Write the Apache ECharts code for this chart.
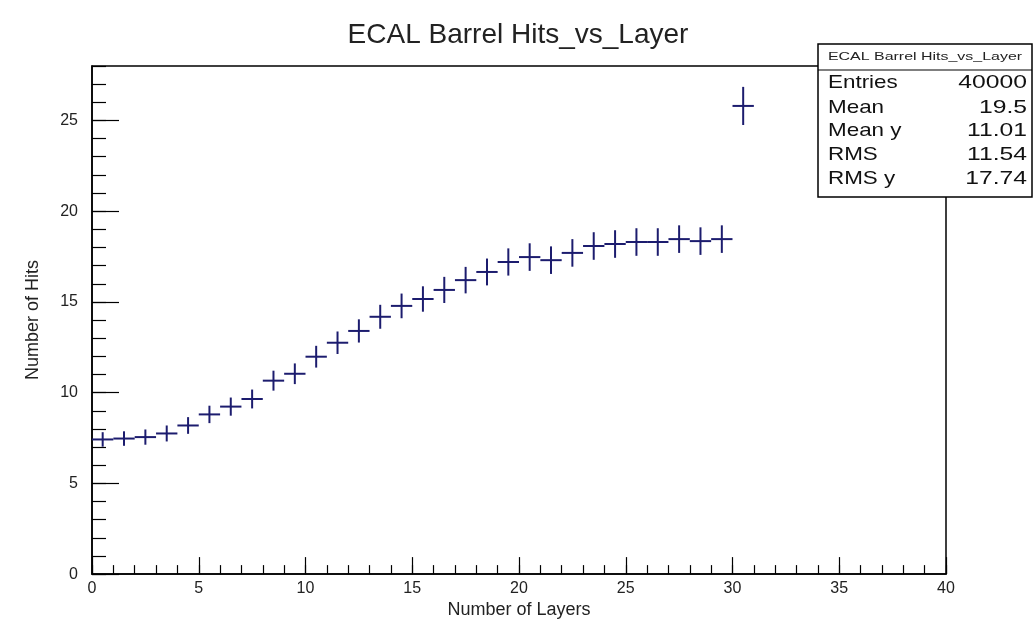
<!DOCTYPE html>
<html>
<head>
<meta charset="utf-8">
<script src="https://cdn.jsdelivr.net/npm/echarts@6/dist/echarts.min.js"></script>
<style>
html,body{margin:0;padding:0;background:#fff;}
#chart{width:1036px;height:624px;}
</style>
</head>
<body>
<div id="chart"></div>
<script>
// Data
const layers = [0.5,1.5,2.5,3.5,4.5,5.5,6.5,7.5,8.5,9.5,10.5,11.5,12.5,13.5,14.5,15.5,16.5,17.5,18.5,19.5,20.5,21.5,22.5,23.5,24.5,25.5,26.5,27.5,28.5,29.5,30.5];
const hits = [7.42,7.47,7.55,7.75,8.19,8.8,9.23,9.65,10.66,11.04,11.98,12.75,13.4,14.18,14.78,15.16,15.66,16.2,16.65,17.2,17.47,17.3,17.7,18.08,18.19,18.3,18.3,18.46,18.35,18.46,25.8];
const errors = [0.4,0.4,0.42,0.44,0.46,0.48,0.5,0.52,0.55,0.57,0.6,0.62,0.64,0.66,0.68,0.7,0.72,0.73,0.74,0.75,0.76,0.76,0.76,0.76,0.76,0.76,0.76,0.76,0.76,0.76,1.05];
const binHalfWidth = 0.5;
const xTickLabels = ['0','5','10','15','20','25','30','35','40'];
const yTickLabels = ['0','5','10','15','20','25'];
const statsTitle = 'ECAL Barrel Hits_vs_Layer';
const statsNames = ['Entries','Mean','Mean y','RMS','RMS y'];
const statsValues = ['40000','19.5','11.01','11.54','17.74'];

const FONT = 'Liberation Sans, Arial, Helvetica, sans-serif';
const LINE = '#1c1c6e';

const chart = echarts.init(document.getElementById('chart'), null, {renderer:'canvas'});

const data = layers.map((x,i)=>[x, hits[i], errors[i]]);

const graphics = [];
const bx = 818, by = 44, bw = 214, bh = 153;
graphics.push({type:'rect', shape:{x:bx,y:by,width:bw,height:bh}, style:{fill:'#fff',stroke:'#000',lineWidth:1.5}, z:100});
graphics.push({type:'line', shape:{x1:bx,y1:70,x2:bx+bw,y2:70}, style:{stroke:'#000',lineWidth:1.2}, z:101});
graphics.push({type:'text', x:bx+bw/2, y:57, scaleX:1.45, style:{text:statsTitle, font:'11px '+FONT, fill:'#222', align:'center', verticalAlign:'middle'}, z:101});
const rowY = [83,108,131,155,179];
statsNames.forEach((n,i)=>{
  graphics.push({type:'text', x:828, y:rowY[i], scaleX:1.18, style:{text:n, font:'19px '+FONT, fill:'#111', align:'left', verticalAlign:'middle'}, z:101});
  graphics.push({type:'text', x:1027, y:rowY[i], scaleX:1.3, style:{text:statsValues[i], font:'19px '+FONT, fill:'#111', align:'right', verticalAlign:'middle'}, z:101});
});

const option = {
  backgroundColor:'#fff',
  animation:false,
  title:{text:'ECAL Barrel Hits_vs_Layer', left:'center', top:16, textStyle:{fontFamily:FONT, fontSize:28, fontWeight:'normal', color:'#222'}},
  grid:{left:92, right:90, top:66, bottom:47, show:true, borderColor:'#000', borderWidth:1.5, backgroundColor:'#fff'},
  xAxis:[
    {type:'value', min:0, max:40, interval:5, position:'bottom',
     name:'Number of Layers', nameLocation:'middle', nameGap:24,
     nameTextStyle:{fontFamily:FONT, fontSize:18, color:'#222'},
     axisLine:{show:true, onZero:false, lineStyle:{color:'#000', width:1.5}},
     axisTick:{show:true, inside:true, length:17, lineStyle:{color:'#000', width:1.2}},
     axisLabel:{show:true, margin:6, fontFamily:FONT, fontSize:16, color:'#222',
       formatter:(v)=>{const s=String(Math.round(v)); return xTickLabels.includes(s)?s:'';}},
     splitLine:{show:false}},
    {type:'value', min:0, max:40, interval:1, position:'bottom',
     axisLine:{show:false, onZero:false},
     axisTick:{show:true, inside:true, length:9, lineStyle:{color:'#000', width:1.2}},
     axisLabel:{show:false}, splitLine:{show:false}}
  ],
  yAxis:[
    {type:'value', min:0, max:28, interval:5, position:'left',
     name:'Number of Hits', nameLocation:'middle', nameGap:50, nameRotate:90,
     nameTextStyle:{fontFamily:FONT, fontSize:18, color:'#222'},
     axisLine:{show:true, onZero:false, lineStyle:{color:'#000', width:1.5}},
     axisTick:{show:true, inside:true, length:27, lineStyle:{color:'#000', width:1.2}},
     axisLabel:{show:true, margin:14, showMaxLabel:false, fontFamily:FONT, fontSize:16, color:'#222',
       formatter:(v)=>{const s=String(Math.round(v)); return yTickLabels.includes(s)&&Math.abs(v-Math.round(v))<1e-6?s:'';}},
     splitLine:{show:false}},
    {type:'value', min:0, max:28, interval:1, position:'left',
     axisLine:{show:false, onZero:false},
     axisTick:{show:true, inside:true, length:14, lineStyle:{color:'#000', width:1.2}},
     axisLabel:{show:false}, splitLine:{show:false}}
  ],
  series:[{
    type:'custom',
    xAxisIndex:0, yAxisIndex:0,
    data:data,
    encode:{x:0, y:1},
    clip:true,
    renderItem:function(params, api){
      const x = api.value(0), y = api.value(1), e = api.value(2);
      const l = api.coord([x-binHalfWidth, y]);
      const r = api.coord([x+binHalfWidth, y]);
      const t = api.coord([x, y+e]);
      const b = api.coord([x, y-e]);
      const st = {stroke:LINE, lineWidth:2};
      return {type:'group', children:[
        {type:'line', shape:{x1:l[0],y1:l[1],x2:r[0],y2:r[1]}, style:st},
        {type:'line', shape:{x1:t[0],y1:t[1],x2:b[0],y2:b[1]}, style:st}
      ]};
    }
  }],
  graphic:graphics
};
chart.setOption(option);
</script>
</body>
</html>
